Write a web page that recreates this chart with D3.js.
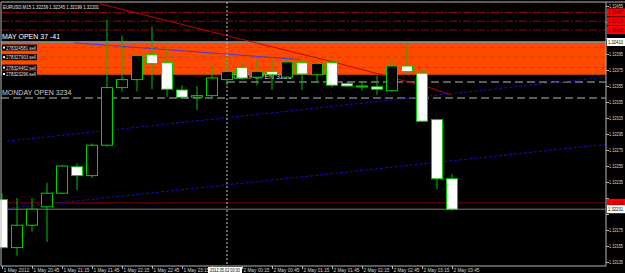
<html>
<head>
  <script src="https://d3js.org/d3.v7.min.js"></script>
  <style>
    body { margin: 0; background: #000; }
    text { font-family: "Liberation Sans", Arial, sans-serif; }
    .axis .domain { stroke: #b4b4b4; }
    .axis line { stroke: #b4b4b4; }
    .axis text { fill: #d8d8d8; font-size: 5px; }
  </style>
</head>
<body>
  <svg width="625" height="273" id="chart"></svg>
  <script>
    // EURUSD M15 bars, 1 May 20:15 -> 2 May 03:45
    const opens  = [1.32213, 1.32153, 1.32181, 1.32204, 1.32221, 1.32254, 1.32243, 1.32281, 1.32353, 1.32363, 1.32394, 1.32384, 1.32350, 1.32341, 1.32343, 1.32363, 1.32378, 1.32366, 1.32373, 1.32366, 1.32384, 1.32369, 1.32384, 1.32358, 1.32355, 1.32354, 1.32349, 1.32380, 1.32371, 1.32313, 1.32239];
    const highs  = [1.32221, 1.32215, 1.32215, 1.32234, 1.32256, 1.32258, 1.32283, 1.32438, 1.32418, 1.32396, 1.32429, 1.32406, 1.32356, 1.32355, 1.32380, 1.32390, 1.32385, 1.32388, 1.32388, 1.32388, 1.32388, 1.32385, 1.32388, 1.32360, 1.32361, 1.32368, 1.32388, 1.32409, 1.32375, 1.32314, 1.32245];
    const lows   = [1.32152, 1.32143, 1.32173, 1.32160, 1.32220, 1.32225, 1.32240, 1.32279, 1.32348, 1.32348, 1.32351, 1.32341, 1.32340, 1.32325, 1.32341, 1.32356, 1.32363, 1.32356, 1.32350, 1.32365, 1.32350, 1.32359, 1.32353, 1.32354, 1.32349, 1.32344, 1.32348, 1.32370, 1.32310, 1.32226, 1.32199];
    const closes = [1.32153, 1.32181, 1.32201, 1.32221, 1.32255, 1.32243, 1.32281, 1.32353, 1.32363, 1.32393, 1.32383, 1.32351, 1.32341, 1.32343, 1.32365, 1.32373, 1.32365, 1.32373, 1.32369, 1.32385, 1.32370, 1.32383, 1.32356, 1.32355, 1.32354, 1.32351, 1.32380, 1.32373, 1.32311, 1.32239, 1.32201];

    const timeTicks = [0, 2, 4, 6, 8, 10, 12, 14, 16, 18, 20, 22, 24, 26, 28, 30];
    const timeLabels = ["1 May 2012", "1 May 20:45", "1 May 21:15", "1 May 21:45", "1 May 22:15", "1 May 22:45", "1 May 23:15", "1 May 23:45",
      "2 May 00:15", "2 May 00:45", "2 May 01:15", "2 May 01:45", "2 May 02:15", "2 May 02:45", "2 May 03:15", "2 May 03:45"];
    const priceTicks = [1.32455, 1.32435, 1.32415, 1.32395, 1.32375, 1.32355, 1.32335, 1.32315, 1.32295, 1.32275, 1.32255, 1.32235, 1.32215, 1.32195, 1.32175, 1.32155, 1.32135];

    // horizontal levels
    const stopLevels = [1.32447, 1.32436, 1.32425];
    const orderLevels = [1.32403, 1.32391, 1.32378, 1.32370];
    const orderLabels = ["278324581 sell", "278327903 sell", "278324462 sell", "278323296 sell"];
    const zone = [1.32409, 1.32369];
    const mayOpen = 1.32410, todayOpen = 1.32360, mondayOpen = 1.32340;
    const redLevel = 1.32209, bid = 1.32201;

    // trend lines as [bar, price]
    const channelLow = [[0.33, 1.32202], [40.2, 1.32282]];
    const channelHigh = [[0.33, 1.32286], [40.2, 1.32366]];
    const purpleLine = [[4.8, 1.32409], [19.9, 1.32388]];
    const redCurve = [[6.5, 1.32458], [13.9, 1.32423], [22.1, 1.32385], [28.5, 1.32353], [29.9, 1.32344]];

    const svg = d3.select("#chart");
    const x = d3.scaleLinear().domain([0, 40]).range([2, 602]);
    const y = d3.scaleLinear().domain([1.32135, 1.32455]).range([262, 6]);
    const pLeft = 1, pRight = 606, pTop = 2, pBottom = 266;

    svg.append("rect").attr("width", 625).attr("height", 273).attr("fill", "#000");

    // order zone
    svg.append("rect")
      .attr("x", pLeft).attr("y", y(zone[0]))
      .attr("width", pRight - pLeft).attr("height", y(zone[1]) - y(zone[0]))
      .attr("fill", "#ff4800");
    orderLevels.forEach(p => {
      svg.append("line")
        .attr("x1", pLeft).attr("x2", pRight).attr("y1", y(p)).attr("y2", y(p))
        .attr("stroke", "#7a6a00").attr("stroke-dasharray", "5,3");
    });

    stopLevels.forEach(p => {
      svg.append("line")
        .attr("x1", pLeft).attr("x2", pRight).attr("y1", y(p)).attr("y2", y(p))
        .attr("stroke", "#a00000").attr("stroke-dasharray", "8,2,2,2");
    });

    svg.append("line").attr("x1", pLeft).attr("x2", pRight).attr("y1", y(mayOpen)).attr("y2", y(mayOpen))
      .attr("stroke", "#f0f0f0");
    svg.append("line").attr("x1", x(15)).attr("x2", pRight).attr("y1", y(todayOpen)).attr("y2", y(todayOpen))
      .attr("stroke", "#b8b8b8").attr("stroke-dasharray", "8,4");
    svg.append("line").attr("x1", pLeft).attr("x2", pRight).attr("y1", y(mondayOpen)).attr("y2", y(mondayOpen))
      .attr("stroke", "#b8b8b8").attr("stroke-dasharray", "8,4");
    svg.append("line").attr("x1", pLeft).attr("x2", pRight).attr("y1", y(redLevel)).attr("y2", y(redLevel))
      .attr("stroke", "#7a0000");
    svg.append("line").attr("x1", pLeft).attr("x2", pRight).attr("y1", y(bid)).attr("y2", y(bid))
      .attr("stroke", "#7c7c7c");

    const line = d3.line().x(d => x(d[0])).y(d => y(d[1]));
    [channelLow, channelHigh].forEach(c => {
      svg.append("path").attr("d", line(c)).attr("fill", "none")
        .attr("stroke", "#1010c8").attr("stroke-dasharray", "3,2");
    });
    svg.append("path").attr("d", line(purpleLine)).attr("fill", "none").attr("stroke", "#4a3ad0");
    svg.append("path").attr("d", line(redCurve)).attr("fill", "none").attr("stroke", "#c80000");

    // period separator
    svg.append("line").attr("x1", x(15)).attr("x2", x(15)).attr("y1", pTop).attr("y2", pBottom)
      .attr("stroke", "#c8c8c8").attr("stroke-dasharray", "2,2");

    // level texts (behind the candles)
    svg.append("text").attr("x", 2).attr("y", y(mayOpen) - 3)
      .attr("fill", "#ffffff").style("font-size", "7px").text("MAY OPEN 37 -41");
    svg.append("text").attr("x", 2).attr("y", y(mondayOpen) - 3)
      .attr("fill", "#d0d0d0").style("font-size", "7px").text("MONDAY OPEN 3234");
    svg.append("text").attr("x", x(15) + 2).attr("y", y(todayOpen) - 3)
      .attr("fill", "#d0d0d0").style("font-size", "7px").text("TODAY OPEN 3236");

    // candles
    opens.forEach((o, i) => {
      const c = closes[i];
      svg.append("line")
        .attr("x1", x(i)).attr("x2", x(i))
        .attr("y1", y(highs[i])).attr("y2", y(lows[i]))
        .attr("stroke", "#00c000");
      const yt = y(Math.max(o, c)), yb = y(Math.min(o, c));
      svg.append("rect")
        .attr("x", x(i) - 5.5).attr("y", yt)
        .attr("width", 11).attr("height", Math.max(1, yb - yt))
        .attr("fill", c >= o ? "#000" : "#fff")
        .attr("stroke", "#00d000");
    });

    // order labels
    orderLevels.forEach((p, i) => {
      const g = svg.append("g").attr("transform", `translate(2,${y(p) - 3})`);
      g.append("rect").attr("width", 35).attr("height", 6).attr("fill", "#000");
      g.append("rect").attr("x", 1).attr("y", 2).attr("width", 2).attr("height", 2).attr("fill", "#fff");
      g.append("text").attr("x", 4).attr("y", 5).attr("fill", "#e0e0e0").style("font-size", "5.5px")
        .attr("textLength", 30).attr("lengthAdjust", "spacingAndGlyphs").text(orderLabels[i]);
    });

    // price boxes on the right scale
    const boxes = stopLevels.map(p => ({ p: p, bg: "#ff0000", fg: "#500000" }))
      .concat([{ p: mayOpen, bg: "#ffffff", fg: "#000" }, { p: redLevel, bg: "#ff0000", fg: "#500000" }, { p: bid, bg: "#ffffff", fg: "#000" }]);

    // axes
    svg.append("g")
      .attr("class", "axis")
      .attr("transform", `translate(${pRight},0)`)
      .call(d3.axisRight(y).tickValues(priceTicks).tickSize(3).tickFormat(d3.format(".5f")))
      .call(g => g.select(".domain").attr("d", `M0,${pTop}V${pBottom}`))
      .call(g => g.selectAll(".tick text").attr("x", 3)
        .attr("textLength", 14).attr("lengthAdjust", "spacingAndGlyphs")
        .style("display", d => boxes.some(b => Math.abs(y(b.p) - y(d)) < 5) ? "none" : null));

    svg.append("g")
      .attr("class", "axis")
      .attr("transform", `translate(0,${pBottom})`)
      .call(d3.axisBottom(x).tickValues(timeTicks).tickSize(3).tickFormat((d, i) => timeLabels[i]))
      .call(g => g.select(".domain").attr("d", `M${pLeft},0H${pRight}`))
      .call(g => g.selectAll(".tick text").attr("text-anchor", "start").attr("dx", 1).attr("y", 2)
        .attr("textLength", 26).attr("lengthAdjust", "spacingAndGlyphs")
        .style("display", d => d === 14 ? "none" : null));

    svg.append("line").attr("x1", pLeft).attr("x2", 625).attr("y1", pTop).attr("y2", pTop).attr("stroke", "#b4b4b4");
    svg.append("line").attr("x1", pLeft).attr("x2", pLeft).attr("y1", pTop).attr("y2", pBottom).attr("stroke", "#b4b4b4");

    boxes.forEach(b => {
      svg.append("rect").attr("x", pRight + 1).attr("y", y(b.p) - 4).attr("width", 18).attr("height", 8).attr("fill", b.bg);
      svg.append("text").attr("x", pRight + 2).attr("y", y(b.p) + 2).attr("fill", b.fg)
        .style("font-size", "5px").attr("textLength", 15).attr("lengthAdjust", "spacingAndGlyphs")
        .text(d3.format(".5f")(b.p));
    });

    // cursor time box
    svg.append("rect").attr("x", x(15) - 19).attr("y", pBottom + 1).attr("width", 34).attr("height", 6).attr("fill", "#fff");
    svg.append("text").attr("x", x(15) - 17).attr("y", pBottom + 6)
      .attr("fill", "#000").style("font-size", "5px").attr("textLength", 30).attr("lengthAdjust", "spacingAndGlyphs")
      .text("2012.05.02 00:00");

    svg.append("text").attr("x", 3).attr("y", 9).attr("fill", "#e8e8e8").style("font-size", "5.5px")
      .attr("textLength", 96).attr("lengthAdjust", "spacingAndGlyphs")
      .text("EURUSD,M15  1.32239 1.32245 1.32199 1.32201");
  </script>
</body>
</html>
